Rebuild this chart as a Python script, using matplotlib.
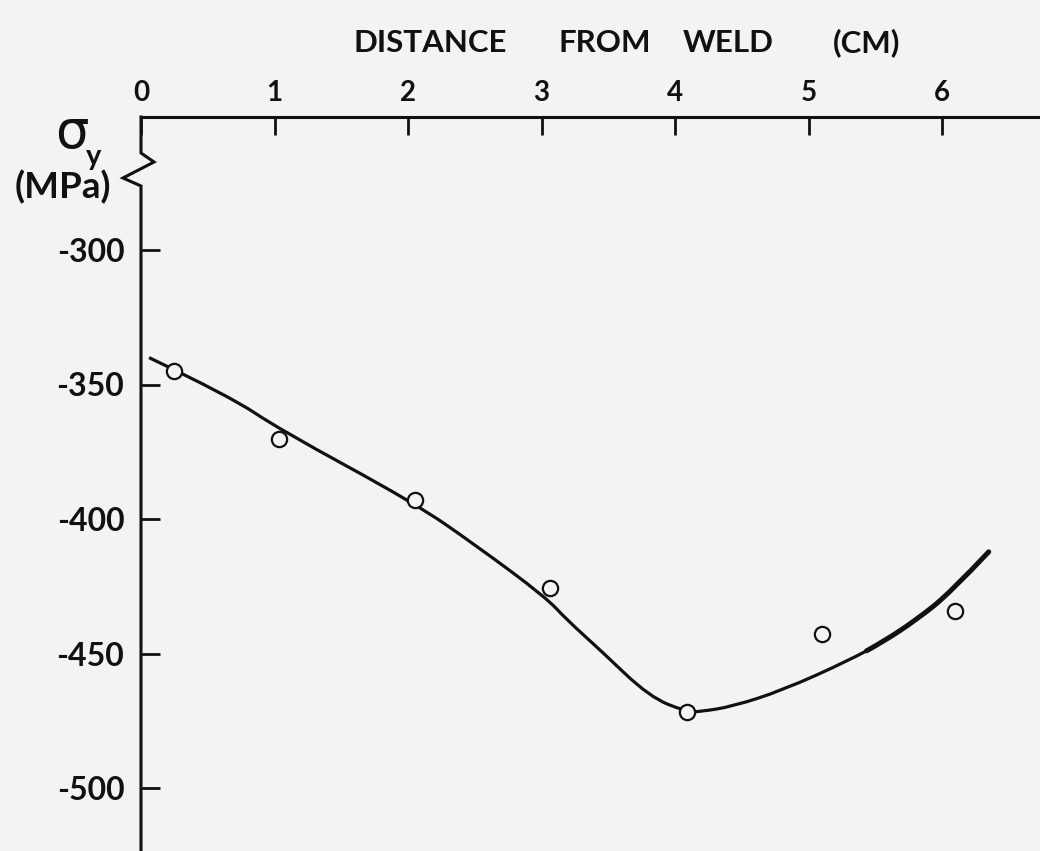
import matplotlib
matplotlib.use("Agg")
import matplotlib.pyplot as plt
from matplotlib.path import Path
from matplotlib.patches import PathPatch

# ---- data ----
pt_x = [0.25, 1.03, 2.05, 3.06, 4.09, 5.10, 6.10]
pt_y = [-344.9, -370.3, -392.9, -425.6, -471.9, -442.8, -434.1]

curve_x = [0.06, 0.67, 1.03, 2.05, 2.50, 3.03, 3.19, 3.44, 3.81, 4.09, 4.19,
           4.43, 4.81, 5.31, 5.56, 5.81, 6.06, 6.35]
curve_y = [-340.0, -354.5, -366.5, -394.1, -409.5, -429.0, -437.5, -448.7, -466.2,
           -471.7, -471.6, -469.7, -463.6, -452.4, -445.6, -437.4, -427.5, -412.2]

x_ticks = [0, 1, 2, 3, 4, 5, 6]
x_tick_labels = ["0", "1", "2", "3", "4", "5", "6"]
y_ticks = [-300, -350, -400, -450, -500]
y_tick_labels = ["-300", "-350", "-400", "-450", "-500"]

title_words = ["DISTANCE", "FROM", "WELD", "(CM)"]

W, H = 1040, 851
fig = plt.figure(figsize=(W / 100, H / 100), dpi=100)
bg = "#f3f3f3"
fig.patch.set_facecolor(bg)

left_px, top_px = 141, 117
ax = fig.add_axes([left_px / W, 0, (W - left_px) / W, (H - top_px) / H])
ax.set_facecolor(bg)

px_per_x = 133.5
px_per_y = 2.69
ax.set_xlim(0, (W - left_px) / px_per_x)
y_top = -350 + (384.5 - top_px) / px_per_y
y_bot = -350 - (H - 384.5) / px_per_y
ax.set_ylim(y_bot, y_top)

font = "Lato"
ink = "#111111"

for s in ["right", "bottom", "left"]:
    ax.spines[s].set_visible(False)
ax.spines["top"].set_linewidth(2.2)
ax.spines["top"].set_color(ink)

# left axis with break symbol
dx = 1.0 / px_per_x
dy = 1.0 / px_per_y
yb1 = y_top - 36 * dy
yb2 = y_top - 45 * dy
yb3 = y_top - 61 * dy
yb4 = y_top - 69 * dy
ax.plot([0, 0, 13 * dx, -18 * dx, 0, 0],
        [y_top, yb1, yb2, yb3, yb4, y_bot],
        color=ink, lw=2.2, clip_on=False, solid_joinstyle="miter")

ax.xaxis.tick_top()
ax.set_xticks(x_ticks)
ax.set_xticklabels(x_tick_labels, fontfamily=font, fontsize=20, fontweight="bold")
ax.set_yticks(y_ticks)
ax.set_yticklabels(y_tick_labels, fontfamily=font, fontsize=23, fontweight="bold")
ax.tick_params(axis="x", direction="in", length=13, width=2.0, color=ink, pad=8,
               labelcolor=ink)
ax.tick_params(axis="y", direction="in", length=14, width=2.0, color=ink, pad=12,
               labelcolor=ink)

# smooth curve through the read points (quadratic Bezier, midpoint scheme)
pts = list(zip(curve_x, curve_y))
verts = [pts[0]]
codes = [Path.MOVETO]
for i in range(1, len(pts) - 1):
    end = pts[i + 1] if i == len(pts) - 2 else (
        (pts[i][0] + pts[i + 1][0]) / 2, (pts[i][1] + pts[i + 1][1]) / 2)
    verts += [pts[i], end]
    codes += [Path.CURVE3, Path.CURVE3]
full_path = Path(verts, codes)
k = 2 * 13  # start of the heavier tail segment (midpoint after 5.31 cm)
tail_path = Path(verts[k:], [Path.MOVETO] + codes[k + 1:])

ax.add_patch(PathPatch(full_path, fill=False, edgecolor=ink, lw=2.3,
                       capstyle="butt", joinstyle="round", zorder=3))
ax.add_patch(PathPatch(tail_path, fill=False, edgecolor=ink, lw=3.6,
                       capstyle="round", joinstyle="round", zorder=3))
ax.plot(pt_x, pt_y, linestyle="none", marker="o", markersize=11,
        markerfacecolor=bg, markeredgecolor=ink, markeredgewidth=1.6, zorder=4)

# title words
title_cx = [430, 605, 728, 867]
for word, cx in zip(title_words, title_cx):
    fig.text(cx / W, 1 - 43 / H, word, ha="center", va="center",
             fontfamily=font, fontsize=22.5, fontweight="bold", color=ink)

# y-axis label
fig.text(72 / W, 1 - 133 / H, "σ", ha="center", va="center",
         fontfamily="DejaVu Sans", fontsize=38, color=ink)
fig.text(94 / W, 1 - 157 / H, "y", ha="center", va="center",
         fontfamily=font, fontsize=21, fontweight="bold", color=ink)
fig.text(63 / W, 1 - 187 / H, "(MPa)", ha="center", va="center",
         fontfamily=font, fontsize=26.5, fontweight="bold", color=ink)

fig.savefig("out.png", dpi=100, facecolor=bg)
